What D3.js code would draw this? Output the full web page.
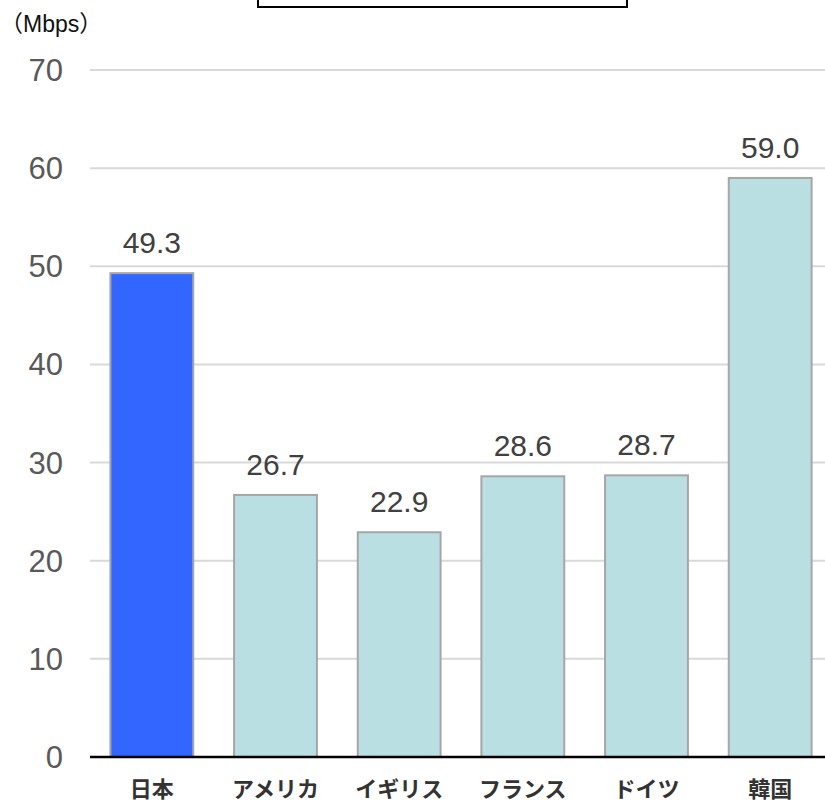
<!DOCTYPE html>
<html>
<head>
<meta charset="utf-8">
<script src="https://cdn.jsdelivr.net/npm/d3@7"></script>
<style>
  body { margin: 0; background: #fff; }
  svg { display: block; }
</style>
</head>
<body>
<div class="graph-bd"></div>
<script>
// data
let countries = ["日本", "アメリカ", "イギリス", "フランス", "ドイツ", "韓国"];
let speeds = [49.3, 26.7, 22.9, 28.6, 28.7, 59.0];
let yTicks = [0, 10, 20, 30, 40, 50, 60, 70];

function run() {
    let w = 825, h = 803;
    let svg = d3.select(".graph-bd")
        .append("svg")
        .attr("width", w)
        .attr("height", h);

    let left = 90, right = 832, top = 70, bottom = 757;

    let xScale = d3.scaleBand()
        .domain(countries)
        .range([left, right])
        .paddingInner(0.33)
        .paddingOuter(0.165);
    let yScale = d3.scaleLinear()
        .domain([0, 70])
        .range([bottom, top]);

    // title box (cut off at top)
    svg.append("rect")
        .attr("x", 258).attr("y", -30)
        .attr("width", 369).attr("height", 37)
        .attr("fill", "none")
        .attr("stroke", "#000")
        .attr("stroke-width", 2);

    // unit
    svg.append("text")
        .text("（Mbps）")
        .attr("x", 0).attr("y", 32)
        .attr("font-family", "'Liberation Sans', 'Noto Sans CJK JP', sans-serif")
        .attr("font-size", "23px")
        .attr("fill", "#111");

    // gridlines
    svg.selectAll(".grid")
        .data(yTicks.filter(d => d > 0))
        .enter()
        .append("line")
        .attr("x1", left).attr("x2", w)
        .attr("y1", d => yScale(d)).attr("y2", d => yScale(d))
        .attr("stroke", "#d9d9d9")
        .attr("stroke-width", 2);

    // y tick labels
    svg.selectAll(".ytick")
        .data(yTicks)
        .enter()
        .append("text")
        .text(d => d)
        .attr("x", 63)
        .attr("y", d => yScale(d) + 11)
        .attr("text-anchor", "end")
        .attr("font-family", "'Liberation Sans', Arial, sans-serif")
        .attr("font-size", "31px")
        .attr("fill", "#595959");

    // bars
    svg.selectAll(".bar")
        .data(speeds)
        .enter()
        .append("rect")
        .attr("x", (d, i) => xScale(countries[i]))
        .attr("y", d => yScale(d))
        .attr("width", xScale.bandwidth())
        .attr("height", d => bottom - yScale(d))
        .attr("fill", (d, i) => i === 0 ? "#3366ff" : "#b9dfe2")
        .attr("stroke", "#a6a6a6")
        .attr("stroke-width", 2);

    // value labels
    svg.selectAll(".val")
        .data(speeds)
        .enter()
        .append("text")
        .text(d => d.toFixed(1))
        .attr("text-anchor", "middle")
        .attr("x", (d, i) => xScale(countries[i]) + xScale.bandwidth() / 2)
        .attr("y", d => yScale(d) - 20)
        .attr("font-family", "'Liberation Sans', Arial, sans-serif")
        .attr("font-size", "30px")
        .attr("fill", "#404040");

    // x axis line
    svg.append("line")
        .attr("x1", left).attr("x2", w)
        .attr("y1", bottom).attr("y2", bottom)
        .attr("stroke", "#000")
        .attr("stroke-width", 2.5);

    // category labels
    svg.selectAll(".cat")
        .data(countries)
        .enter()
        .append("text")
        .text(d => d)
        .attr("text-anchor", "middle")
        .attr("x", d => xScale(d) + xScale.bandwidth() / 2)
        .attr("y", 797)
        .attr("font-family", "'Noto Sans CJK JP', sans-serif")
        .attr("font-weight", "bold")
        .attr("font-size", "22px")
        .attr("fill", "#333");
}
window.addEventListener("load", run);
</script>
</body>
</html>
